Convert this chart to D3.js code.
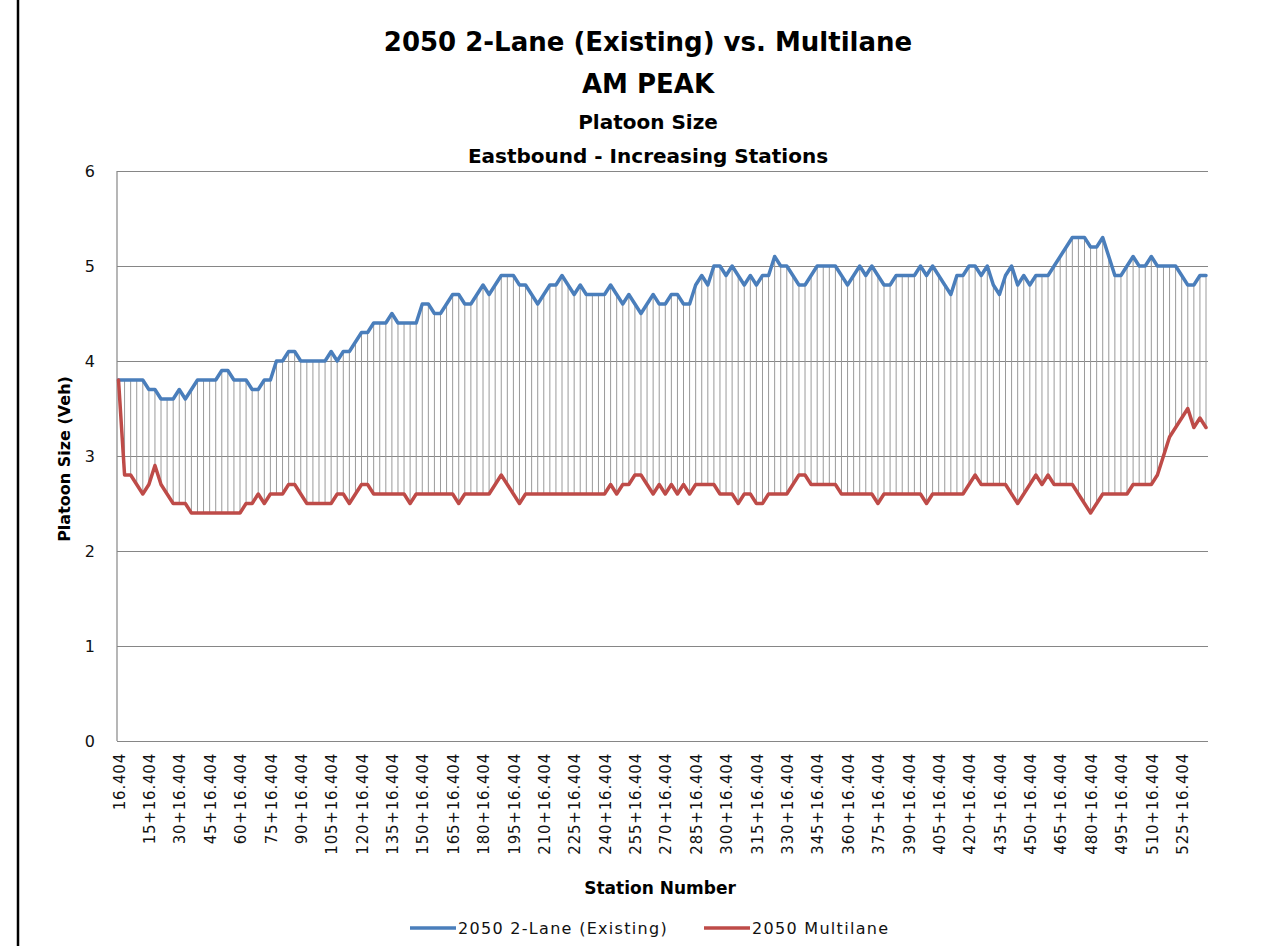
<!DOCTYPE html>
<html>
<head>
<meta charset="utf-8">
<script src="https://cdn.jsdelivr.net/npm/d3@7"></script>
<style>
  body { margin: 0; background: #fff; }
  svg { display: block; }
</style>
</head>
<body>
<div id="chart"></div>
<script>
// station categories (every 3 stations, 0..537) and platoon sizes
var stations = d3.range(0, 538, 3);
var existing2Lane = [
  3.8, 3.8, 3.8, 3.8, 3.8, 3.7, 3.7, 3.6, 3.6, 3.6,
  3.7, 3.6, 3.7, 3.8, 3.8, 3.8, 3.8, 3.9, 3.9, 3.8,
  3.8, 3.8, 3.7, 3.7, 3.8, 3.8, 4.0, 4.0, 4.1, 4.1,
  4.0, 4.0, 4.0, 4.0, 4.0, 4.1, 4.0, 4.1, 4.1, 4.2,
  4.3, 4.3, 4.4, 4.4, 4.4, 4.5, 4.4, 4.4, 4.4, 4.4,
  4.6, 4.6, 4.5, 4.5, 4.6, 4.7, 4.7, 4.6, 4.6, 4.7,
  4.8, 4.7, 4.8, 4.9, 4.9, 4.9, 4.8, 4.8, 4.7,
  4.6, 4.7, 4.8, 4.8, 4.9, 4.8, 4.7, 4.8, 4.7, 4.7,
  4.7, 4.7, 4.8, 4.7, 4.6, 4.7, 4.6, 4.5, 4.6, 4.7,
  4.6, 4.6, 4.7, 4.7, 4.6, 4.6, 4.8, 4.9, 4.8, 5.0,
  5.0, 4.9, 5.0, 4.9, 4.8, 4.9, 4.8, 4.9, 4.9, 5.1,
  5.0, 5.0, 4.9, 4.8, 4.8, 4.9, 5.0, 5.0, 5.0, 5.0,
  4.9, 4.8, 4.9, 5.0, 4.9, 5.0, 4.9, 4.8, 4.8, 4.9,
  4.9, 4.9, 4.9, 5.0, 4.9, 5.0, 4.9, 4.8, 4.7, 4.9,
  4.9, 5.0, 5.0, 4.9, 5.0, 4.8, 4.7, 4.9, 5.0, 4.8,
  4.9, 4.8, 4.9, 4.9, 4.9, 5.0, 5.1, 5.2, 5.3, 5.3,
  5.3, 5.2, 5.2, 5.3, 5.1, 4.9, 4.9, 5.0, 5.1, 5.0,
  5.0, 5.1, 5.0, 5.0, 5.0, 5.0, 4.9, 4.8, 4.8, 4.9,
  4.9
];
var multilane = [
  3.8, 2.8, 2.8, 2.7, 2.6, 2.7, 2.9, 2.7, 2.6, 2.5,
  2.5, 2.5, 2.4, 2.4, 2.4, 2.4, 2.4, 2.4, 2.4, 2.4,
  2.4, 2.5, 2.5, 2.6, 2.5, 2.6, 2.6, 2.6, 2.7, 2.7,
  2.6, 2.5, 2.5, 2.5, 2.5, 2.5, 2.6, 2.6, 2.5, 2.6,
  2.7, 2.7, 2.6, 2.6, 2.6, 2.6, 2.6, 2.6, 2.5, 2.6,
  2.6, 2.6, 2.6, 2.6, 2.6, 2.6, 2.5, 2.6, 2.6, 2.6,
  2.6, 2.6, 2.7, 2.8, 2.7, 2.6, 2.5, 2.6, 2.6,
  2.6, 2.6, 2.6, 2.6, 2.6, 2.6, 2.6, 2.6, 2.6, 2.6,
  2.6, 2.6, 2.7, 2.6, 2.7, 2.7, 2.8, 2.8, 2.7, 2.6,
  2.7, 2.6, 2.7, 2.6, 2.7, 2.6, 2.7, 2.7, 2.7, 2.7,
  2.6, 2.6, 2.6, 2.5, 2.6, 2.6, 2.5, 2.5, 2.6, 2.6,
  2.6, 2.6, 2.7, 2.8, 2.8, 2.7, 2.7, 2.7, 2.7, 2.7,
  2.6, 2.6, 2.6, 2.6, 2.6, 2.6, 2.5, 2.6, 2.6, 2.6,
  2.6, 2.6, 2.6, 2.6, 2.5, 2.6, 2.6, 2.6, 2.6, 2.6,
  2.6, 2.7, 2.8, 2.7, 2.7, 2.7, 2.7, 2.7, 2.6, 2.5,
  2.6, 2.7, 2.8, 2.7, 2.8, 2.7, 2.7, 2.7, 2.7, 2.6,
  2.5, 2.4, 2.5, 2.6, 2.6, 2.6, 2.6, 2.6, 2.7, 2.7,
  2.7, 2.7, 2.8, 3.0, 3.2, 3.3, 3.4, 3.5, 3.3, 3.4,
  3.3
];
var yTicks = [0, 1, 2, 3, 4, 5, 6];
var labelStations = stations.filter(function (s, i) { return i % 5 === 0; });
var seriesNames = ["2050 2-Lane (Existing)", "2050 Multilane"];
var seriesColours = ["#4a7ebb", "#be4b48"];
var titleLines = ["2050 2-Lane (Existing) vs. Multilane", "AM PEAK", "Platoon Size", "Eastbound - Increasing Stations"];

function init() {
  var w = 1269;
  var h = 946;
  // plot area edges
  var left = 117, top = 171, right = 1208, bottom = 741;
  var font = "'DejaVu Sans', Verdana, sans-serif";

  var svg = d3.select("#chart")
    .append("svg")
    .attr("width", w)
    .attr("height", h)
    .style("font-family", font);

  svg.append("rect").attr("width", w).attr("height", h).attr("fill", "#fff");

  // outer frame line on the left
  svg.append("line")
    .attr("x1", 18).attr("x2", 18).attr("y1", 0).attr("y2", h)
    .attr("stroke", "#000").attr("stroke-width", 2.5);

  var x = d3.scalePoint().domain(stations).range([left + 1.5, right - 2]);
  var y = d3.scaleLinear().domain([0, 6]).range([bottom, top]);

  // titles
  var titleY = [51, 93, 129, 163];
  var titleSize = [26, 26, 20, 20];
  svg.selectAll("text.title")
    .data(titleLines)
    .enter()
    .append("text")
    .attr("class", "title")
    .attr("x", 648)
    .attr("y", function (d, i) { return titleY[i]; })
    .attr("text-anchor", "middle")
    .style("font-weight", "bold")
    .style("font-size", function (d, i) { return titleSize[i] + "px"; })
    .text(function (d) { return d; });

  // y axis with gridlines
  var yAxis = svg.append("g")
    .attr("transform", "translate(" + left + ",0)")
    .call(d3.axisLeft(y).tickValues(yTicks).tickFormat(d3.format("d"))
      .tickSize(-(right - left)).tickPadding(22));
  yAxis.select(".domain").remove();
  yAxis.selectAll(".tick line").attr("stroke", "#868686").attr("stroke-width", 1);
  yAxis.selectAll(".tick text")
    .style("font-family", font)
    .style("font-size", "16px")
    .attr("fill", "#111");

  // left axis line
  svg.append("line")
    .attr("x1", left).attr("x2", left).attr("y1", top).attr("y2", bottom)
    .attr("stroke", "#868686").attr("stroke-width", 1.2);

  // x axis labels (every 5th station)
  var xAxis = svg.append("g")
    .attr("transform", "translate(0," + bottom + ")")
    .call(d3.axisBottom(x)
      .tickValues(labelStations)
      .tickSize(0)
      .tickFormat(function (s) { return s === 0 ? "16.404" : s + "+16.404"; }));
  xAxis.select(".domain").remove();
  xAxis.selectAll(".tick text")
    .attr("transform", "rotate(-90)")
    .attr("text-anchor", "end")
    .attr("x", -12)
    .attr("y", 0)
    .attr("dy", "0.38em")
    .style("font-family", font)
    .style("font-size", "15px")
    .style("letter-spacing", "0.8px")
    .attr("fill", "#111");

  // high-low drop lines between the two series
  svg.append("g")
    .selectAll("line")
    .data(stations)
    .enter()
    .append("line")
    .attr("x1", function (s) { return x(s); })
    .attr("x2", function (s) { return x(s); })
    .attr("y1", function (s, i) { return y(existing2Lane[i]); })
    .attr("y2", function (s, i) { return y(multilane[i]); })
    .attr("stroke", "#9a9a9a")
    .attr("stroke-width", 1);

  // series lines
  var line = d3.line()
    .x(function (d, i) { return x(stations[i]); })
    .y(function (d) { return y(d); });
  [existing2Lane, multilane].forEach(function (series, k) {
    svg.append("path")
      .datum(series)
      .attr("d", line)
      .attr("fill", "none")
      .attr("stroke", seriesColours[k])
      .attr("stroke-width", 3.5)
      .attr("stroke-linejoin", "round")
      .attr("stroke-linecap", "round");
  });

  // axis titles
  svg.append("text")
    .attr("transform", "translate(70,459) rotate(-90)")
    .attr("text-anchor", "middle")
    .style("font-weight", "bold")
    .style("font-size", "16px")
    .text("Platoon Size (Veh)");
  svg.append("text")
    .attr("x", 660)
    .attr("y", 894)
    .attr("text-anchor", "middle")
    .style("font-weight", "bold")
    .style("font-size", "17px")
    .text("Station Number");

  // legend
  var legendX = [410, 704];
  var legend = svg.selectAll("g.legend")
    .data(seriesNames)
    .enter()
    .append("g")
    .attr("class", "legend")
    .attr("transform", function (d, i) { return "translate(" + legendX[i] + ",928)"; });
  legend.append("line")
    .attr("x1", 0).attr("x2", 46).attr("y1", 0).attr("y2", 0)
    .attr("stroke", function (d, i) { return seriesColours[i]; })
    .attr("stroke-width", 3.5);
  legend.append("text")
    .attr("x", 48)
    .attr("y", 6)
    .style("font-size", "16px")
    .style("letter-spacing", "1.3px")
    .attr("fill", "#111")
    .text(function (d) { return d; });
}

window.onload = init;
</script>
</body>
</html>
